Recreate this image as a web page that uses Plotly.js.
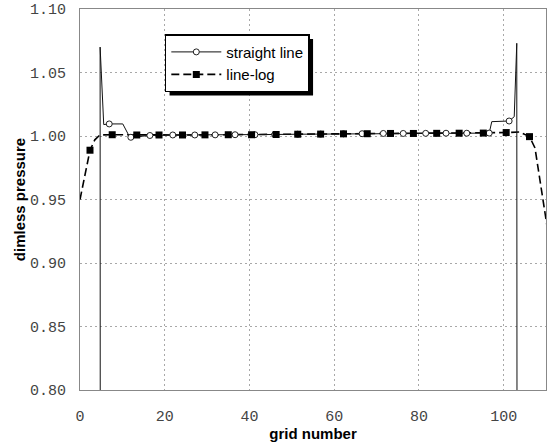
<!DOCTYPE html>
<html>
<head>
<meta charset="utf-8">
<script src="https://cdn.plot.ly/plotly-3.0.1.min.js"></script>
<style>html,body{margin:0;padding:0;background:#fff;}#chart{width:548px;height:442px;}</style>
</head>
<body>
<div id="chart"></div>
<script>
// ---- data ----
// "straight line" series: full path and the open-circle marker points
var straightPathX = [4.8, 4.75, 5.6, 6.9, 10.1, 11.6, 12.0, 16.5, 21.9, 27.1, 31.9, 36.6, 41.3, 46.0, 51.4, 56.8, 62.2, 66.6, 71.6, 76.3, 81.6, 86.4, 91.3, 96.6, 97.2, 101.3, 102.5, 103.1, 103.2];
var straightPathY = [0.5, 1.07, 1.009, 1.0095, 1.0095, 1.0, 0.999, 1.0004, 1.0008, 1.0008, 1.0009, 1.001, 1.001, 1.0012, 1.0014, 1.0015, 1.0017, 1.0018, 1.002, 1.002, 1.0021, 1.0022, 1.0022, 1.0023, 1.0113, 1.0118, 1.0152, 1.073, 0.5];
var straightMarkX = [6.9, 12.0, 16.5, 21.9, 27.1, 31.9, 36.6, 41.3, 46.0, 51.4, 56.8, 62.2, 66.6, 71.6, 76.3, 81.6, 86.4, 91.3, 96.6, 101.3];
var straightMarkY = [1.0095, 0.999, 1.0004, 1.0008, 1.0008, 1.0009, 1.001, 1.001, 1.0012, 1.0014, 1.0015, 1.0017, 1.0018, 1.002, 1.002, 1.0021, 1.0022, 1.0022, 1.0023, 1.0118];

// "line-log" series: full path and the filled-square marker points
var logPathX = [0, 1.4, 2.36, 3.5, 4.7, 7.6, 13.4, 18.65, 24.2, 29.5, 35.0, 40.5, 46.3, 51.4, 56.8, 62.2, 67.8, 73.3, 78.7, 84.2, 89.5, 95.2, 100.6, 103.7, 106.1, 107.4, 108.6, 109.5, 110.2];
var logPathY = [0.95, 0.973, 0.9888, 0.997, 1.0008, 1.001, 1.0008, 1.0008, 1.0008, 1.0009, 1.001, 1.001, 1.0012, 1.0014, 1.0015, 1.0017, 1.0018, 1.002, 1.002, 1.0021, 1.0022, 1.0023, 1.0027, 1.0032, 0.9995, 0.9906, 0.9654, 0.9444, 0.93];
var logMarkX = [2.36, 7.6, 13.4, 18.65, 24.2, 29.5, 35.0, 40.5, 46.3, 51.4, 56.8, 62.2, 67.8, 73.3, 78.7, 84.2, 89.5, 95.2, 100.6, 106.1];
var logMarkY = [0.9888, 1.001, 1.0008, 1.0008, 1.0008, 1.0009, 1.001, 1.001, 1.0012, 1.0014, 1.0015, 1.0017, 1.0018, 1.002, 1.002, 1.0021, 1.0022, 1.0023, 1.0027, 0.9995];

var seriesNames = ["straight line", "line-log"];
var xTickVals = [0, 20, 40, 60, 80, 100];
var yTickVals = [0.80, 0.85, 0.90, 0.95, 1.00, 1.05, 1.10];
var yTickText = ["0.80", "0.85", "0.90", "0.95", "1.00", "1.05", "1.10"];

// ---- traces ----
var straightLine = {color: "#111", width: 1};
var logLine = {color: "#000", width: 1.6, dash: "8px,4px"};
var circleMarker = {symbol: "circle", size: 6, color: "#fff", line: {width: 1, color: "#222"}};
var squareMarker = {symbol: "square", size: 7, color: "#000"};

var traces = [
  {x: logPathX, y: logPathY, mode: "lines", line: logLine, showlegend: false, hoverinfo: "skip"},
  {x: straightPathX, y: straightPathY, mode: "lines", line: straightLine, showlegend: false, hoverinfo: "skip"},
  {x: straightMarkX, y: straightMarkY, mode: "markers", marker: circleMarker, showlegend: false},
  {x: logMarkX, y: logMarkY, mode: "markers", marker: squareMarker, showlegend: false},
  // legend entries
  {x: [null], y: [null], mode: "lines+markers", name: seriesNames[0], line: straightLine, marker: circleMarker},
  {x: [null], y: [null], mode: "lines+markers", name: seriesNames[1], line: logLine, marker: squareMarker}
];

var gridStyle = {gridcolor: "#a8a8a8", griddash: "2px,3px", gridwidth: 1};

var layout = {
  width: 548, height: 442,
  margin: {l: 80, r: 2, t: 9, b: 52, pad: 0},
  paper_bgcolor: "#fff", plot_bgcolor: "#fff",
  showlegend: true,
  xaxis: Object.assign({
    range: [0, 110], tickvals: xTickVals, ticks: "", showline: true, mirror: true,
    linecolor: "#888", linewidth: 1, zeroline: false,
    tickfont: {family: "Liberation Mono, Courier New, monospace", size: 15, color: "#444"},
    ticklabelstandoff: 12,
    title: {text: "grid number", font: {family: "Liberation Sans, Arial, sans-serif", size: 15, color: "#000", weight: "bold"}, standoff: 4}
  }, gridStyle),
  yaxis: Object.assign({
    range: [0.80, 1.10], tickvals: yTickVals, ticktext: yTickText, ticks: "", showline: true, mirror: true,
    linecolor: "#888", linewidth: 1, zeroline: false,
    tickfont: {family: "Liberation Mono, Courier New, monospace", size: 15, color: "#444"},
    ticklabelstandoff: 10,
    title: {text: "dimless pressure", font: {family: "Liberation Sans, Arial, sans-serif", size: 15, color: "#000", weight: "bold"}, standoff: 0}
  }, gridStyle),
  legend: {
    x: 0.182, y: 0.934, xanchor: "left", yanchor: "top",
    bgcolor: "#fff", bordercolor: "#000", borderwidth: 1.5,
    font: {family: "Liberation Sans, Arial, sans-serif", size: 15, color: "#000"},
    tracegroupgap: 0, itemwidth: 50
  }
};

var gd = document.getElementById("chart");
Plotly.newPlot(gd, traces, layout, {displayModeBar: false, staticPlot: true}).then(function () {
  // drop shadow behind the legend box, offset down-right
  var bg = gd.querySelector(".legend .bg");
  if (!bg) return;
  var r = bg.getBoundingClientRect();
  var c = gd.getBoundingClientRect();
  var s = gd._fullLayout._size;
  var off = 4;
  function px2x(p) { return (p - c.left - s.l) / s.w; }
  function py2y(p) { return (s.t + s.h - (p - c.top)) / s.h; }
  return Plotly.relayout(gd, {shapes: [{
    type: "rect", xref: "paper", yref: "paper", layer: "above",
    x0: px2x(r.left + off), x1: px2x(r.right + off),
    y0: py2y(r.bottom + off), y1: py2y(r.top + off),
    fillcolor: "#000", line: {width: 0}
  }]});
});
</script>
</body>
</html>
